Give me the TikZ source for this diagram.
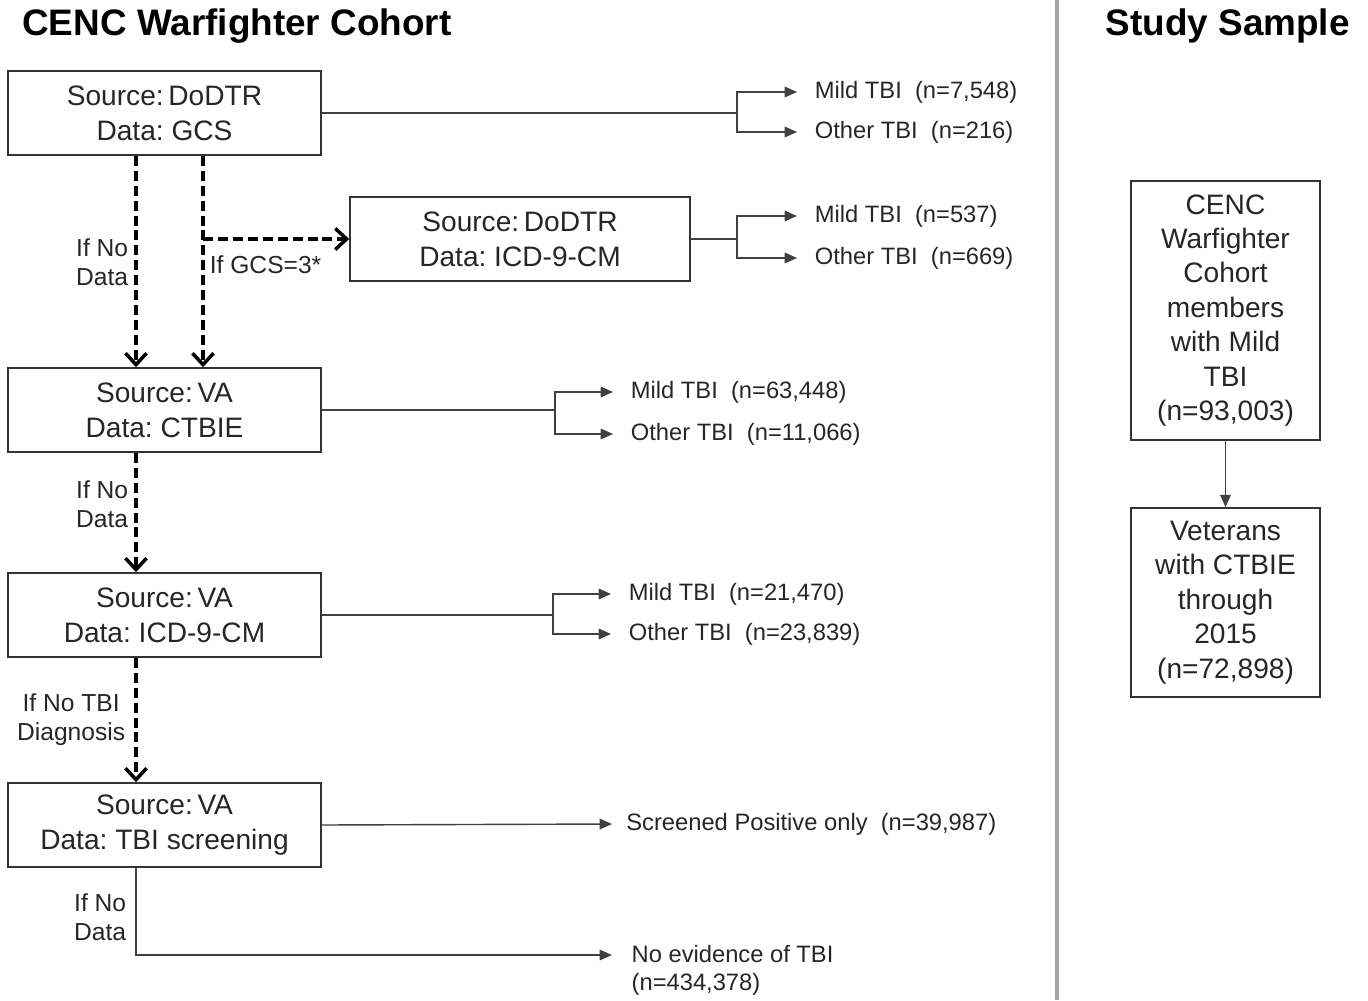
\documentclass[tikz,border=0pt]{standalone}
\usepackage{fontspec}
\setmainfont{Liberation Sans}
\frenchspacing
\usetikzlibrary{arrows.meta,positioning}

\begin{document}
\begin{tikzpicture}[
  x=0.02cm, y=-0.02cm,
  box/.style={rectangle, draw=black!80, line width=0.9pt, minimum width=6.26cm, minimum height=1.68cm, align=center, text=black!85, font=\fontsize{16}{19.8}\selectfont},
  sidebox/.style={box, minimum width=3.78cm, font=\fontsize{16}{19.6}\selectfont},
  lbl/.style={anchor=west, inner xsep=10pt, text=black!85, font=\fontsize{13.5}{16}\selectfont},
  cond/.style={align=center, inner xsep=2pt, text=black!85, font=\fontsize{14}{16.5}\selectfont},
  title/.style={inner sep=0pt, font=\fontsize{21}{25}\selectfont\bfseries},
  link/.style={draw=black!75, line width=0.8pt},
  tip/.style={link, -{Triangle[length=7pt, width=6pt]}},
  nodata/.style={draw=black, line width=2pt, dash pattern=on 5.7pt off 2.8pt, -{Straight Barb[length=6.5pt, width=12pt]}},
]
  \useasboundingbox (0,0) rectangle (1368,1000);

  % headings and divider
  \node[title, anchor=west] (lefttitle) at (22,26) {CENC Warfighter Cohort};
  \node[title, anchor=east] (righttitle) at (1350,26) {Study Sample};
  \draw[gray!70, line width=2.3pt] (1057,0) -- (1057,1000);

  % data sources
  \node[box] (gcs) at (164.5,113) {Source:\,DoDTR\\Data: GCS};
  \node[box, minimum width=6.8cm] (dodicd) at (520,239) {Source:\,DoDTR\\Data: ICD-9-CM};
  \node[box] (ctbie) at (164.5,410) {Source:\,VA\\Data: CTBIE};
  \node[box] (vaicd) at (164.5,615) {Source:\,VA\\Data: ICD-9-CM};
  \node[box] (tbiscreen) at (164.5,825) {Source:\,VA\\Data: TBI screening};

  % outcomes
  \node[lbl] (mild1) at (797,92) {Mild TBI~ (n=7,548)};
  \node[lbl] (other1) at (797,132) {Other TBI~ (n=216)};
  \node[lbl] (mild2) at (797,216) {Mild TBI~ (n=537)};
  \node[lbl] (other2) at (797,258) {Other TBI~ (n=669)};
  \node[lbl] (mild3) at (613,392) {Mild TBI~ (n=63,448)};
  \node[lbl] (other3) at (613,434) {Other TBI~ (n=11,066)};
  \node[lbl] (mild4) at (611,594) {Mild TBI~ (n=21,470)};
  \node[lbl] (other4) at (611,634) {Other TBI~ (n=23,839)};
  \node[lbl, inner xsep=8pt] (pos) at (612,824) {Screened Positive only~ (n=39,987)};
  \node[lbl, align=left, inner xsep=11pt] (noev) at (612,970) {No evidence of TBI\\(n=434,378)};

  % forks
  \coordinate (fork1) at (737,113);
  \coordinate (fork2) at (737,239);
  \coordinate (fork3) at (555,410);
  \coordinate (fork4) at (553,615);
  \draw[link] (gcs.east) -- (fork1);
  \draw[tip] (fork1) |- (mild1.west);
  \draw[tip] (fork1) |- (other1.west);
  \draw[link] (dodicd.east) -- (fork2);
  \draw[tip] (fork2) |- (mild2.west);
  \draw[tip] (fork2) |- (other2.west);
  \draw[link] (ctbie.east) -- (fork3);
  \draw[tip] (fork3) |- (mild3.west);
  \draw[tip] (fork3) |- (other3.west);
  \draw[link] (vaicd.east) -- (fork4);
  \draw[tip] (fork4) |- (mild4.west);
  \draw[tip] (fork4) |- (other4.west);
  \draw[tip] (tbiscreen.east) -- (pos.west);

  % fall-through paths
  \coordinate (spine) at (136,0);
  \coordinate (branch) at (203,0);
  \draw[nodata] (spine |- gcs.south) -- (spine |- ctbie.north);
  \draw[nodata] (branch |- gcs.south) -- (branch |- ctbie.north);
  \draw[nodata] (branch |- dodicd.west) -- (dodicd.west);
  \draw[nodata] (spine |- ctbie.south) -- (spine |- vaicd.north);
  \draw[nodata] (spine |- vaicd.south) -- (spine |- tbiscreen.north);
  \draw[tip] (spine |- tbiscreen.south) |- ([yshift=0.3cm]noev.west);

  \node[cond, anchor=east] (cond1) at (132,262) {If No\\Data};
  \node[cond, anchor=west] (cond2) at (206,265) {If GCS=3*};
  \node[cond, anchor=east] (cond3) at (132,504) {If No\\Data};
  \node[cond, anchor=east] (cond4) at (129,720) {If No TBI\\Diagnosis};
  \node[cond, anchor=east] (cond5) at (130,917) {If No\\Data};

  % study sample
  \node[sidebox, minimum height=5.18cm] (cohort) at (1225.5,310.5) {CENC\\Warfighter\\Cohort\\members\\with Mild\\TBI\\(n=93,003)};
  \node[sidebox, minimum height=3.78cm] (veterans) at (1225.5,602.5) {Veterans\\with CTBIE\\through\\2015\\(n=72,898)};
  \draw[tip] (cohort.south) -- (veterans.north);
\end{tikzpicture}
\end{document}
